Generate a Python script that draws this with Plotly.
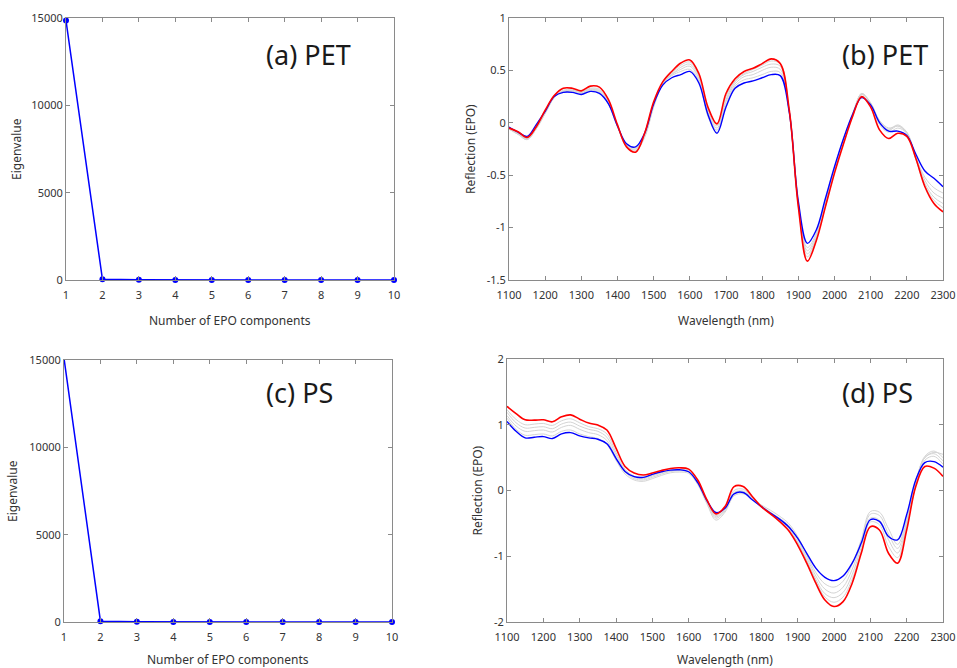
import plotly.graph_objects as go

# ---------------- data ----------------
components = [1, 2, 3, 4, 5, 6, 7, 8, 9, 10]
eig_pet = [14850, 40, 8, 4, 2, 1.5, 1, 0.8, 0.5, 0.3]
eig_ps = [15100, 45, 10, 5, 3, 2, 1.5, 1, 0.6, 0.4]

wavelength = list(range(1100, 2301, 25))

pet_red = [-0.05, -0.085, -0.14, -0.04, 0.12, 0.26, 0.33, 0.33, 0.305, 0.35, 0.34, 0.22, -0.02, -0.23, -0.28, -0.10,
           0.20, 0.39, 0.49, 0.57, 0.60, 0.47, 0.15, -0.01, 0.28, 0.42, 0.49, 0.52, 0.565, 0.61, 0.565, 0.12, -0.80,
           -1.32, -1.12, -0.80, -0.48, -0.20, 0.06, 0.25, 0.15, -0.07, -0.15, -0.10, -0.13, -0.34, -0.61, -0.77, -0.85]
pet_blue = [-0.04, -0.09, -0.13, -0.02, 0.11, 0.25, 0.29, 0.29, 0.27, 0.30, 0.28, 0.18, -0.03, -0.20, -0.23, -0.10,
            0.18, 0.36, 0.43, 0.46, 0.49, 0.38, 0.08, -0.10, 0.15, 0.33, 0.38, 0.40, 0.43, 0.46, 0.45, 0.10, -0.75,
            -1.15, -1.02, -0.72, -0.42, -0.15, 0.08, 0.24, 0.17, 0.00, -0.08, -0.08, -0.12, -0.30, -0.46, -0.53, -0.61]
pet_gray1 = [-0.05, -0.10, -0.15, -0.04, 0.10, 0.25, 0.29, 0.30, 0.28, 0.31, 0.29, 0.18, -0.04, -0.21, -0.24, -0.12,
             0.17, 0.37, 0.45, 0.49, 0.51, 0.40, 0.06, -0.09, 0.17, 0.35, 0.41, 0.43, 0.46, 0.49, 0.48, 0.10, -0.77,
             -1.19, -1.05, -0.74, -0.44, -0.15, 0.09, 0.27, 0.19, 0.02, -0.05, -0.03, -0.10, -0.33, -0.52, -0.62, -0.67]
pet_gray2 = [-0.05, -0.10, -0.15, -0.05, 0.10, 0.25, 0.30, 0.31, 0.29, 0.32, 0.30, 0.19, -0.04, -0.22, -0.25, -0.12,
             0.17, 0.37, 0.46, 0.51, 0.54, 0.42, 0.08, -0.07, 0.20, 0.37, 0.44, 0.46, 0.50, 0.53, 0.51, 0.11, -0.78,
             -1.22, -1.07, -0.76, -0.45, -0.17, 0.08, 0.27, 0.18, 0.01, -0.06, -0.02, -0.09, -0.33, -0.55, -0.67, -0.72]
pet_gray3 = [-0.06, -0.11, -0.16, -0.06, 0.09, 0.24, 0.30, 0.31, 0.29, 0.32, 0.31, 0.20, -0.03, -0.22, -0.26, -0.13,
             0.16, 0.37, 0.46, 0.53, 0.56, 0.44, 0.10, -0.05, 0.22, 0.39, 0.46, 0.49, 0.53, 0.56, 0.54, 0.11, -0.79,
             -1.25, -1.09, -0.77, -0.46, -0.18, 0.07, 0.28, 0.19, 0.00, -0.07, -0.03, -0.09, -0.34, -0.58, -0.71, -0.77]
pet_gray4 = [-0.06, -0.11, -0.16, -0.06, 0.09, 0.24, 0.31, 0.32, 0.30, 0.33, 0.32, 0.21, -0.03, -0.23, -0.27, -0.14,
             0.15, 0.37, 0.47, 0.55, 0.58, 0.45, 0.12, -0.03, 0.25, 0.40, 0.47, 0.51, 0.55, 0.59, 0.56, 0.12, -0.80,
             -1.28, -1.10, -0.79, -0.47, -0.19, 0.06, 0.28, 0.18, -0.02, -0.09, -0.05, -0.10, -0.35, -0.60, -0.74, -0.81]

ps_red = [1.28, 1.17, 1.075, 1.07, 1.075, 1.045, 1.12, 1.15, 1.085, 1.025, 0.995, 0.92, 0.645, 0.365, 0.265, 0.235,
          0.265, 0.305, 0.335, 0.345, 0.325, 0.16, -0.14, -0.355, -0.245, 0.06, 0.06, -0.09, -0.245, -0.355, -0.47,
          -0.61, -0.83, -1.105, -1.41, -1.665, -1.765, -1.69, -1.41, -0.955, -0.55, -0.60, -0.955, -1.105, -0.60,
          0.06, 0.365, 0.34, 0.215]
ps_blue = [1.05, 0.90, 0.80, 0.81, 0.82, 0.79, 0.86, 0.88, 0.83, 0.80, 0.78, 0.71, 0.49, 0.29, 0.21, 0.20, 0.245,
           0.285, 0.31, 0.315, 0.285, 0.12, -0.15, -0.335, -0.27, -0.05, -0.03, -0.14, -0.245, -0.345, -0.435, -0.55,
           -0.725, -0.955, -1.18, -1.32, -1.37, -1.30, -1.105, -0.80, -0.445, -0.47, -0.70, -0.75, -0.37, 0.16, 0.425,
           0.44, 0.355]
ps_gray1 = [1.10, 0.93, 0.84, 0.85, 0.86, 0.83, 0.90, 0.92, 0.86, 0.82, 0.79, 0.70, 0.46, 0.25, 0.16, 0.14, 0.18,
            0.23, 0.27, 0.28, 0.26, 0.09, -0.20, -0.45, -0.33, -0.08, -0.05, -0.13, -0.22, -0.30, -0.39, -0.50, -0.70,
            -0.98, -1.25, -1.42, -1.47, -1.38, -1.12, -0.75, -0.32, -0.33, -0.58, -0.82, -0.45, 0.15, 0.50, 0.58, 0.55]
ps_gray2 = [1.14, 0.98, 0.90, 0.91, 0.92, 0.89, 0.96, 0.99, 0.93, 0.88, 0.85, 0.76, 0.50, 0.28, 0.18, 0.16, 0.20,
            0.25, 0.29, 0.30, 0.28, 0.11, -0.18, -0.42, -0.31, -0.05, -0.03, -0.12, -0.23, -0.33, -0.42, -0.53, -0.74,
            -1.02, -1.30, -1.50, -1.56, -1.47, -1.20, -0.80, -0.36, -0.38, -0.66, -0.88, -0.48, 0.12, 0.52, 0.60, 0.50]
ps_gray3 = [1.19, 1.03, 0.95, 0.96, 0.97, 0.94, 1.01, 1.04, 0.98, 0.93, 0.90, 0.81, 0.54, 0.30, 0.20, 0.18, 0.22,
            0.27, 0.30, 0.31, 0.29, 0.12, -0.17, -0.40, -0.29, -0.03, -0.01, -0.11, -0.24, -0.35, -0.45, -0.57, -0.78,
            -1.06, -1.35, -1.57, -1.63, -1.55, -1.28, -0.86, -0.42, -0.45, -0.75, -0.95, -0.52, 0.10, 0.50, 0.56, 0.45]
ps_gray4 = [1.23, 1.08, 1.00, 1.01, 1.02, 0.99, 1.06, 1.09, 1.03, 0.97, 0.94, 0.86, 0.58, 0.32, 0.22, 0.20, 0.24,
            0.28, 0.31, 0.32, 0.30, 0.14, -0.16, -0.38, -0.27, 0.00, 0.02, -0.10, -0.24, -0.36, -0.46, -0.59, -0.80,
            -1.08, -1.38, -1.62, -1.70, -1.62, -1.35, -0.92, -0.48, -0.52, -0.85, -1.02, -0.55, 0.08, 0.46, 0.52, 0.40]

pet_yticks = [-1.5, -1, -0.5, 0, 0.5, 1]
pet_yticklabels = ["-1.5", "-1", "-0.5", "0", "0.5", "1"]
ps_yticks = [-2, -1, 0, 1, 2]
ps_yticklabels = ["-2", "-1", "0", "1", "2"]

panel_labels = ["(a) PET", "(b) PET", "(c) PS", "(d) PS"]

# ---------------- figure ----------------
W, H = 957, 668
FONT = "Noto Sans"
TXT = "#333333"
AX = "#8a8a8a"


def px(x):
    return x / W


def py(y):
    return 1 - y / H


fig = go.Figure()

# plot areas in pixels (left, right, top, bottom)
boxes = {
    1: (66, 394, 18, 280),
    2: (509, 943, 18, 280),
    3: (64, 392, 360, 622),
    4: (507, 943, 359, 622),
}


def axname(i, a):
    return f"{a}axis" if i == 1 else f"{a}axis{i}"


def ref(i, a):
    return a if i == 1 else f"{a}{i}"


# eigenvalue panels
for i, eig in ((1, eig_pet), (3, eig_ps)):
    fig.add_trace(go.Scatter(x=components, y=eig, mode="lines+markers",
                             line=dict(color="#0000ff", width=1.5),
                             marker=dict(color="#0000ff", size=6, line=dict(width=0)),
                             cliponaxis=False, showlegend=False,
                             xaxis=ref(i, "x"), yaxis=ref(i, "y")))

# spectra panels
for i, grays, blue, red in ((2, [pet_gray1, pet_gray2, pet_gray3, pet_gray4], pet_blue, pet_red),
                            (4, [ps_gray1, ps_gray2, ps_gray3, ps_gray4], ps_blue, ps_red)):
    for g in grays:
        fig.add_trace(go.Scatter(x=wavelength, y=g, mode="lines", line=dict(color="#d4d4d4", width=1, shape="spline"),
                                 showlegend=False, xaxis=ref(i, "x"), yaxis=ref(i, "y")))
    fig.add_trace(go.Scatter(x=wavelength, y=blue, mode="lines", line=dict(color="#0000ff", width=1.4, shape="spline"),
                             showlegend=False, xaxis=ref(i, "x"), yaxis=ref(i, "y")))
    fig.add_trace(go.Scatter(x=wavelength, y=red, mode="lines", line=dict(color="#ff0000", width=1.6, shape="spline"),
                             showlegend=False, xaxis=ref(i, "x"), yaxis=ref(i, "y")))

layout = dict(width=W, height=H, margin=dict(l=0, r=0, t=0, b=0),
              paper_bgcolor="white", plot_bgcolor="white", template="none",
              font=dict(family=FONT, size=11, color=TXT))

common = dict(showline=True, linecolor=AX, linewidth=1, mirror="ticks", ticks="inside", ticklen=4,
              tickcolor=AX, showgrid=False, zeroline=False, automargin=False,
              tickfont=dict(family=FONT, size=11, color=TXT))

xranges = {1: [1, 10], 2: [1100, 2300], 3: [1, 10], 4: [1100, 2300]}
xdt = {1: 1, 2: 100, 3: 1, 4: 100}
yranges = {1: [0, 15000], 2: [-1.5, 1], 3: [0, 15000], 4: [-2, 2]}
ydt = {1: 5000, 2: 0.5, 3: 5000, 4: 1}

for i, (l, r, t, b) in boxes.items():
    layout[axname(i, "x")] = dict(domain=[px(l), px(r)], range=xranges[i], dtick=xdt[i], tick0=xranges[i][0],
                                  anchor=ref(i, "y"), ticklabelstandoff=5, **common)
    yax = dict(domain=[py(b), py(t)], range=yranges[i], anchor=ref(i, "x"), **common)
    if i in (1, 3):
        yax.update(dtick=ydt[i], tick0=0, tickformat="d")
    elif i == 2:
        yax.update(tickmode="array", tickvals=pet_yticks, ticktext=pet_yticklabels)
    else:
        yax.update(tickmode="array", tickvals=ps_yticks, ticktext=ps_yticklabels)
    layout[axname(i, "y")] = yax

fig.update_layout(**layout)

annotations = []
# axis titles
xtitles = {1: "Number of EPO components", 2: "Wavelength (nm)", 3: "Number of EPO components", 4: "Wavelength (nm)"}
ytitles = {1: "Eigenvalue", 2: "Reflection (EPO)", 3: "Eigenvalue", 4: "Reflection (EPO)"}
xt_y = {1: 320, 2: 320, 3: 659, 4: 659}
yt_x = {1: 16, 2: 470, 3: 12, 4: 477}
for i, (l, r, t, b) in boxes.items():
    annotations.append(dict(text=xtitles[i], x=px((l + r) / 2), y=py(xt_y[i]), xref="paper", yref="paper",
                            showarrow=False, xanchor="center", yanchor="middle",
                            font=dict(family=FONT, size=12, color=TXT)))
    annotations.append(dict(text=ytitles[i], x=px(yt_x[i]), y=py((t + b) / 2), xref="paper", yref="paper",
                            showarrow=False, xanchor="center", yanchor="middle", textangle=-90,
                            font=dict(family=FONT, size=12, color=TXT)))

label_pos = {1: (264, 54), 2: (840, 54), 3: (264, 392), 4: (840, 392)}
for i, lab in zip(boxes, panel_labels):
    x0, y0 = label_pos[i]
    annotations.append(dict(text=lab, x=px(x0), y=py(y0), xref="paper", yref="paper", showarrow=False,
                            xanchor="left", yanchor="middle", font=dict(family=FONT, size=27, color="#1a1a1a")))

fig.update_layout(annotations=annotations)
fig.write_html("out.html")
